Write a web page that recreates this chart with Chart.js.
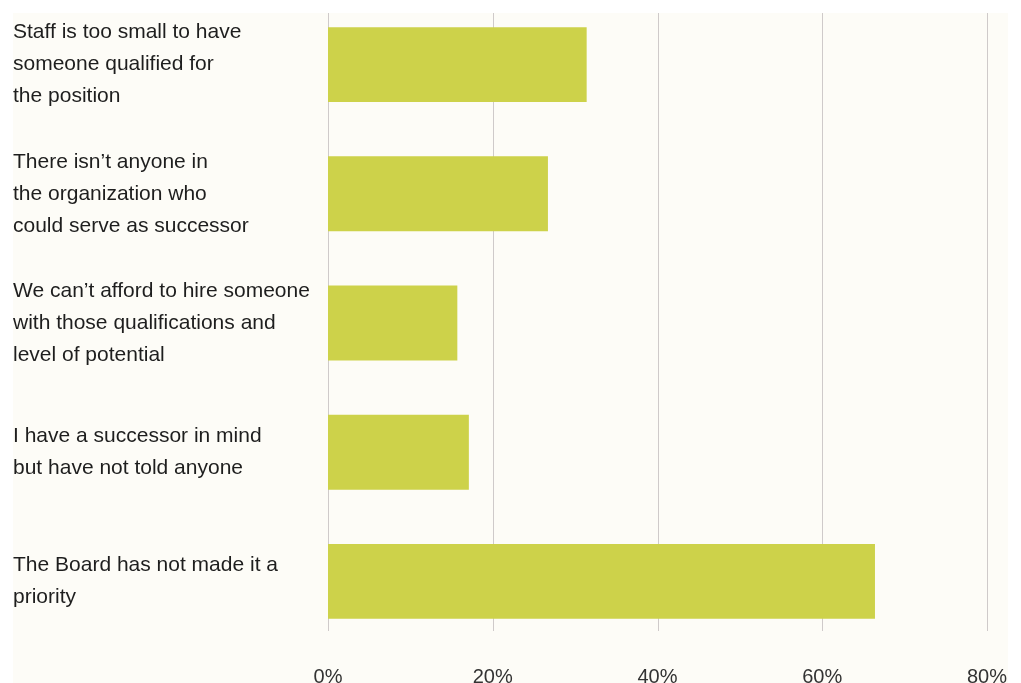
<!DOCTYPE html>
<html>
<head>
<meta charset="utf-8">
<script src="https://cdn.jsdelivr.net/npm/chart.js@4"></script>
<style>
  html, body { margin: 0; padding: 0; background: #ffffff; }
  #wrap { width: 1021px; height: 683px; position: relative; }
</style>
</head>
<body>
<div id="wrap"><canvas id="chart"></canvas></div>
<script>
// reasons given, as drawn top to bottom
const reasons = [
    ["Staff is too small to have", "someone qualified for", "the position"],
    ["There isn\u2019t anyone in", "the organization who", "could serve as successor"],
    ["We can\u2019t afford to hire someone", "with those qualifications and", "level of potential"],
    ["I have a successor in mind", "but have not told anyone"],
    ["The Board has not made it a", "priority"]
];
const shares = [31.4, 26.7, 15.7, 17.1, 66.4];
const axisTicks = [0, 20, 40, 60, 80];

// panel background + short grid lines
const panelPlugin = {
    id: "panel",
    beforeDraw(chart) {
        const ctx = chart.ctx;
        ctx.save();
        ctx.fillStyle = "#fdfcf7";
        ctx.fillRect(13, 13, 995, 670);
        const x = chart.scales.x;
        ctx.strokeStyle = "#cfcaca";
        ctx.lineWidth = 1;
        axisTicks.forEach((t) => {
            const px = Math.round(x.getPixelForValue(t)) + 0.5;
            ctx.beginPath();
            ctx.moveTo(px, 13);
            ctx.lineTo(px, 631);
            ctx.stroke();
        });
        ctx.restore();
    }
};

new Chart(document.getElementById("chart"), {
    type: "bar",
    data: {
        labels: reasons,
        datasets: [{
            data: shares,
            backgroundColor: "#cdd24a",
            borderWidth: 0,
            categoryPercentage: 1,
            barPercentage: 0.58,
        }],
    },
    options: {
        indexAxis: "y",
        responsive: true,
        maintainAspectRatio: false,
        animation: false,
        layout: { padding: { left: 13, right: 34, top: 0, bottom: 0 } },
        plugins: {
            legend: { display: false },
            tooltip: { enabled: false },
        },
        scales: {
            x: {
                min: 0,
                max: 80,
                afterBuildTicks(scale) {
                    scale.ticks = axisTicks.map((v) => ({ value: v }));
                },
                afterFit(scale) {
                    scale.height = 37;
                    scale.paddingLeft = 0;
                    scale.paddingRight = 0;
                },
                grid: { display: false, drawTicks: false },
                border: { display: false },
                ticks: {
                    padding: 19,
                    color: "#333333",
                    font: { family: "Liberation Sans, Arial, sans-serif", size: 20 },
                    callback: (v) => v + "%",
                    maxRotation: 0,
                },
            },
            y: {
                afterFit(scale) {
                    scale.width = 315;
                    scale.paddingTop = 0;
                    scale.paddingBottom = 0;
                },
                grid: { display: false, drawTicks: false },
                border: { display: false },
                ticks: {
                    crossAlign: "far",
                    color: "#1e1e1e",
                    font: { family: "Liberation Sans, Arial, sans-serif", size: 21, lineHeight: 1.52 },
                },
            },
        },
    },
    plugins: [panelPlugin],
});
</script>
</body>
</html>
